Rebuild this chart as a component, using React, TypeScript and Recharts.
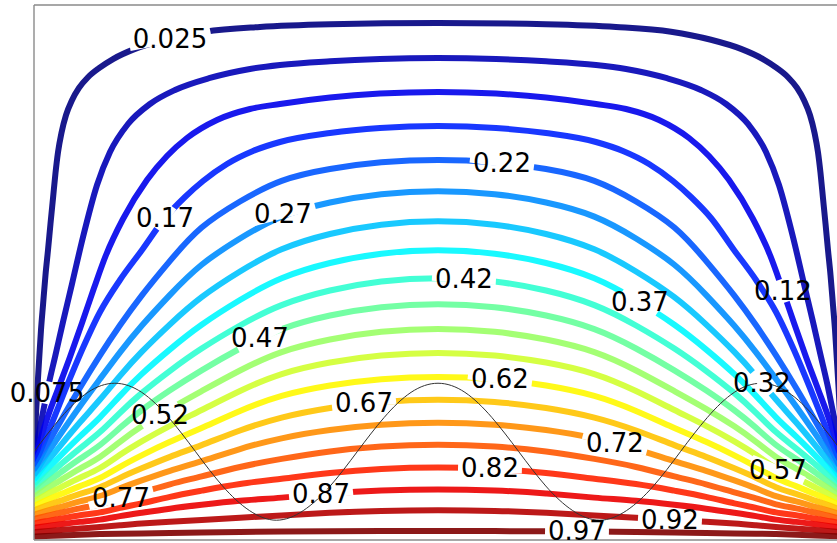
import React from 'react';
import { LineChart, Line, XAxis, YAxis, ReferenceLine, ReferenceDot } from 'recharts';

// contour levels, low (top) to high (bottom)
const LEVEL_LABELS = ['0.025', '0.075', '0.12', '0.17', '0.22', '0.27', '0.32', '0.37', '0.42', '0.47',
  '0.52', '0.57', '0.62', '0.67', '0.72', '0.77', '0.82', '0.87', '0.92', '0.97'];

// jet colours, one per level
const COLORS = ['#000080', '#0000b5', '#0000eb', '#0022ff', '#0057ff', '#008dff', '#00c3ff', '#00f8ff', '#2fffd0', '#65ff9a',
  '#9aff65', '#d0ff2f', '#fff800', '#ffc300', '#ff8d00', '#ff5700', '#ff2200', '#eb0000', '#b50000', '#800000'];

// left half of each contour (x 0..75 of 150, y 0..100); the field is mirror symmetric about x = 75
const X00 = [0, 0.19, 0.41, 0.67, 0.97, 1.3, 1.67, 2.13, 2.6, 3.06, 3.53, 3.99, 4.46, 5.1, 5.94, 7.05, 8.35, 10.02, 12.07, 14.67, 18.75, 24.32, 31.74, 41.95, 54.95, 75];
const Y00 = [16.26, 20.0, 24.3, 29.0, 34.0, 39.3, 43.9, 49.5, 54.2, 59.1, 63.9, 68.6, 72.5, 76.1, 79.4, 82.2, 84.5, 86.5, 88.2, 89.9, 91.8, 93.5, 95.0, 95.9, 96.4, 96.64];
const X01 = [0, 0.93, 1.86, 2.78, 3.9, 5.38, 7.05, 9.1, 11.7, 14.11, 17.45, 21.53, 26.18, 32.67, 40.1, 45.67, 54.95, 64.23, 75];
const Y01 = [15.44, 20.19, 24.86, 29.35, 34.21, 40.75, 47.85, 56.64, 66.36, 72.52, 77.76, 81.5, 84.11, 86.36, 88.04, 88.79, 89.48, 89.91, 90.09];
const X02 = [0, 1.11, 2.6, 4.46, 6.68, 8.91, 11.14, 13.37, 16.52, 20.97, 24.69, 28.4, 33.97, 40.1, 45.67, 54.95, 64.23, 75];
const Y02 = [14.62, 18.5, 23.18, 28.22, 34.21, 40.56, 47.1, 53.27, 60.0, 67.29, 71.78, 75.14, 78.51, 80.56, 81.5, 82.71, 83.44, 83.74];
const X03 = [0, 1.49, 3.34, 5.94, 8.91, 12.25, 15.96, 20.05, 24.32, 28.03, 31.38, 35.83, 40.66, 45.67, 54.95, 64.23, 75];
const Y03 = [13.83, 17.38, 21.87, 28.41, 35.51, 42.62, 48.6, 54.21, 60.19, 64.11, 67.1, 70.28, 72.71, 74.39, 76.07, 77.01, 77.38];

// shared x columns for the lower contours
const HALF_X = [0, 2.04, 4.83, 8.54, 12.25, 15.96, 19.68, 25.25, 30.81, 38.24, 45.67, 54.95, 64.23, 75];
const Y04 = [12.97, 17.07, 22.06, 28.51, 34.58, 40.19, 45.42, 52.24, 58.69, 63.37, 67.48, 69.46, 70.71, 71.22];
const Y05 = [12.15, 15.53, 19.68, 25.07, 30.09, 35.14, 39.81, 45.89, 51.59, 56.45, 60.75, 63.24, 64.79, 65.42];
const Y06 = [11.33, 14.13, 17.57, 22.06, 26.17, 30.75, 34.95, 40.37, 45.42, 50.28, 54.58, 57.37, 59.1, 59.81];
const Y07 = [10.5, 12.82, 15.66, 19.42, 22.8, 27.01, 30.84, 35.7, 40.19, 44.95, 49.16, 51.95, 53.68, 54.39];
const Y08 = [9.68, 11.63, 14.02, 17.2, 20.0, 23.83, 27.29, 31.68, 35.7, 40.19, 44.11, 46.8, 48.47, 49.16];
const Y09 = [8.86, 10.5, 12.52, 15.23, 17.57, 21.03, 24.11, 28.04, 31.59, 35.89, 39.63, 42.11, 43.66, 44.3];
const Y10 = [8.04, 9.42, 11.1, 13.4, 15.33, 18.41, 21.12, 24.58, 27.66, 31.78, 35.33, 37.61, 39.05, 39.63];
const Y11 = [7.21, 8.36, 9.76, 11.7, 13.27, 15.98, 18.32, 21.4, 24.11, 27.94, 31.22, 33.31, 34.6, 35.14];
const Y12 = [6.39, 7.35, 8.5, 10.13, 11.4, 13.74, 15.7, 18.41, 20.75, 24.21, 27.1, 28.99, 30.17, 30.65];
const Y13 = [5.57, 6.34, 7.29, 8.69, 9.72, 11.68, 13.27, 15.61, 17.57, 20.56, 22.99, 24.79, 25.91, 26.36];
const Y14 = [4.75, 5.36, 6.13, 7.27, 8.04, 9.72, 11.03, 12.99, 14.58, 17.1, 19.07, 20.65, 21.65, 22.06];
const Y15 = [3.93, 4.43, 5.03, 5.98, 6.54, 7.85, 8.79, 10.47, 11.78, 13.74, 15.14, 16.64, 17.57, 17.94];
const Y16 = [3.1, 3.48, 3.93, 4.67, 5.05, 6.07, 6.73, 8.13, 9.16, 10.56, 11.4, 12.6, 13.35, 13.65];
const Y17 = [2.28, 2.56, 2.9, 3.42, 3.74, 4.49, 5.05, 5.89, 6.54, 7.38, 7.85, 8.75, 9.31, 9.53];
const Y18 = [1.46, 1.64, 1.87, 2.15, 2.43, 2.75, 3.08, 3.4, 3.74, 4.15, 4.58, 5.12, 5.48, 5.61];
const Y19 = [0.64, 0.75, 0.84, 0.99, 1.12, 1.18, 1.21, 1.31, 1.4, 1.5, 1.59, 1.64, 1.66, 1.68];

// where each level's label sits along its contour (x)
const LABEL_X = [25.25, 2.41, 139.04, 24.32, 86.88, 46.22, 135.14, 112.49, 79.82, 41.95,
  23.39, 138.11, 86.5, 61.26, 107.85, 16.15, 84.65, 53.28, 118.06, 100.8];

// thin black profile curve
const CURVE_X = [0, 5, 10, 15, 20, 25, 30, 35, 40, 45, 50, 55, 60, 65, 70, 75, 80, 85, 90, 95, 100, 105, 110, 115, 120, 125, 130, 135, 140, 145, 150];
const CURVE_Y = [16.5, 22.9, 27.6, 29.3, 27.6, 22.9, 16.5, 10.1, 5.5, 3.7, 5.5, 10.1, 16.5, 22.9, 27.6, 29.3, 27.6, 22.9, 16.5, 10.1, 5.5, 3.7, 5.5, 10.1, 16.5, 22.9, 27.6, 29.3, 27.6, 22.9, 16.5];

const X_MAX = 150;
const PLOT_W = 808;
const PLOT_H = 535;
const FONT = 26;

type Pt = { x: number; y: number };

const mirrored = (xs: number[], ys: number[]): Pt[] => {
  const left = xs.map((x, i) => ({ x, y: ys[i] }));
  const right: Pt[] = [];
  for (let i = xs.length - 2; i >= 0; i--) right.push({ x: X_MAX - xs[i], y: ys[i] });
  return left.concat(right);
};

const HALVES: [number[], number[]][] = [
  [X00, Y00], [X01, Y01], [X02, Y02], [X03, Y03],
  [HALF_X, Y04], [HALF_X, Y05], [HALF_X, Y06], [HALF_X, Y07], [HALF_X, Y08], [HALF_X, Y09],
  [HALF_X, Y10], [HALF_X, Y11], [HALF_X, Y12], [HALF_X, Y13], [HALF_X, Y14], [HALF_X, Y15],
  [HALF_X, Y16], [HALF_X, Y17], [HALF_X, Y18], [HALF_X, Y19],
];

const contours = HALVES.map(([xs, ys]) => mirrored(xs, ys));
const curve = CURVE_X.map((x, i) => ({ x, y: CURVE_Y[i] }));

// find the segment of a contour at x, for placing the label on it
const segmentAt = (pts: Pt[], x: number) => {
  for (let i = 0; i < pts.length - 1; i++) {
    if (x >= pts[i].x && x <= pts[i + 1].x) return [pts[i], pts[i + 1]];
  }
  return [pts[pts.length - 2], pts[pts.length - 1]];
};

const labels = LEVEL_LABELS.map((text, k) => {
  const [a, b] = segmentAt(contours[k], LABEL_X[k]);
  const t = (LABEL_X[k] - a.x) / (b.x - a.x || 1);
  const y = a.y + t * (b.y - a.y);
  const dx = (b.x - a.x) * (PLOT_W / X_MAX);
  const dy = -(b.y - a.y) * (PLOT_H / 100);
  return { text, x: LABEL_X[k], y, angle: Math.atan2(dy, dx) };
});

const textWidth = (s: string) =>
  s.split('').reduce((w, c) => w + (c === '.' ? 0.318 : 0.636), 0) * FONT;

const LabelMark = (props: any) => {
  const { cx, cy, text, angle } = props;
  const cos = Math.cos(angle);
  const sin = Math.sin(angle);
  const hw = textWidth(text) / 2 + 3;
  const hh = 11;
  const len = Math.min(hw / Math.max(Math.abs(cos), 1e-6), hh / Math.max(Math.abs(sin), 1e-6));
  return (
    <g>
      <line x1={cx - len * cos} y1={cy - len * sin} x2={cx + len * cos} y2={cy + len * sin}
        stroke="#ffffff" strokeWidth={8.5} />
      <text x={cx} y={cy} textAnchor="middle" dominantBaseline="central"
        fontFamily="'DejaVu Sans', sans-serif" fontSize={FONT} fill="#000">{text}</text>
    </g>
  );
};

const App: React.FC = () => {
  return (
    <div style={{ position: 'absolute', left: 0, top: 0, width: 837, height: 543, overflow: 'hidden', background: '#fff' }}>
      <LineChart width={850} height={543} margin={{ top: 5, right: 8, bottom: 3, left: 34 }}>
        <XAxis type="number" dataKey="x" domain={[0, X_MAX]} hide allowDataOverflow />
        <YAxis type="number" domain={[0, 100]} hide allowDataOverflow />
        {contours.map((pts, k) => (
          <Line key={`c-${k}`} data={pts} dataKey="y" type={k < 4 ? 'monotone' : 'basis'} stroke={COLORS[k]}
            strokeOpacity={0.9} strokeWidth={6} dot={false} activeDot={false} isAnimationActive={false} />
        ))}
        <Line data={curve} dataKey="y" type="natural" stroke="#333" strokeWidth={1}
          dot={false} activeDot={false} isAnimationActive={false} />
        {labels.map((l, k) => (
          <ReferenceDot key={`l-${k}`} x={l.x} y={l.y} r={0} ifOverflow="visible"
            shape={(p: any) => <LabelMark {...p} text={l.text} angle={l.angle} />} />
        ))}
        <ReferenceLine x={0} stroke="#8a8a8a" strokeWidth={1.4} />
        <ReferenceLine y={100} stroke="#8a8a8a" strokeWidth={1.4} />
        <ReferenceLine y={0} stroke="#8a8a8a" strokeWidth={1.4} />
      </LineChart>
    </div>
  );
};

export default App;
